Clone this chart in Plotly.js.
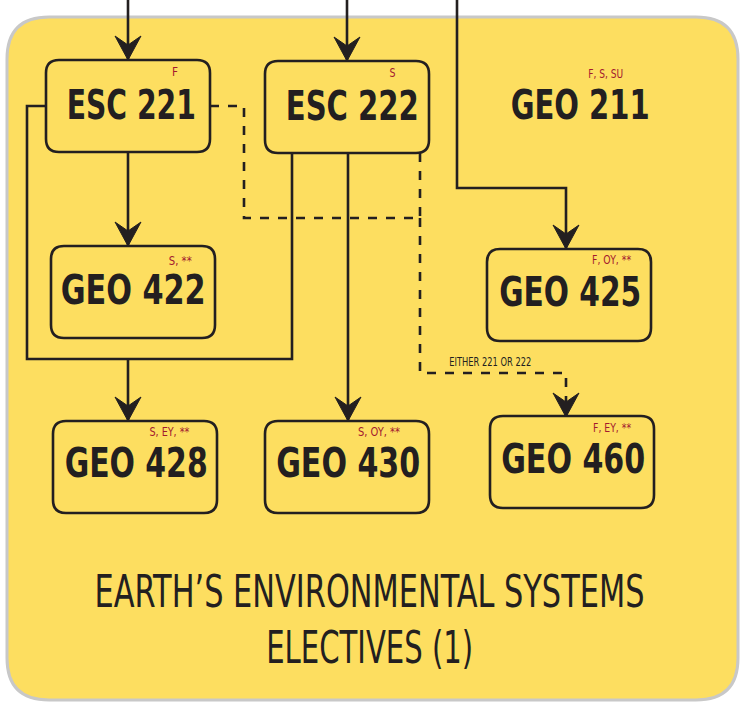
<!DOCTYPE html>
<html>
<head>
<meta charset="utf-8">
<script src="https://cdn.plot.ly/plotly-3.0.1.min.js"></script>
<style>html,body{margin:0;padding:0;background:#fff;}#chart{width:740px;height:702px;}</style>
</head>
<body>
<div id="chart"></div>
<script>
// ---- data ----
const courses = ['ESC 221', 'ESC 222', 'GEO 211', 'GEO 422', 'GEO 425', 'GEO 428', 'GEO 430', 'GEO 460'];
const terms = ['F', 'S', 'F, S, SU', 'S, **', 'F, OY, **', 'S, EY, **', 'S, OY, **', 'F, EY, **'];
const boxed = [true, true, false, true, true, true, true, true];
const noteText = 'EITHER 221 OR 222';
const titleLines = ['EARTH\u2019S ENVIRONMENTAL SYSTEMS', 'ELECTIVES (1)'];

// ---- layout (pixel space of the figure) ----
const nodeX = [128, 347, 580, 133, 569, 135, 347, 572];
const nodeY = [106, 107, 105, 292, 295, 467, 467, 462];
const labelX = [131, 352, 580, 133, 570, 136, 348, 573];
const labelY = [105, 106, 105, 290, 292, 463, 463, 459];
const labelW = [129, 133, 139, 145, 142, 143, 144, 144];
const termX = [175, 392, 606, 180, 612, 169, 379, 612];
const termY = [72, 73, 74, 261, 260, 432, 432, 428];
const termW = [6, 6, 35, 23, 39, 40, 42, 38];
const nodeW = 164, nodeH = 92;
const titleY = [591, 647];
const titleW = [550, 207];
const titleStretch = 1.16;

const solidPaths = [
  {pts: [[128, 0], [128, 60]], arrow: true},
  {pts: [[347, 0], [347, 61]], arrow: true},
  {pts: [[457, 0], [457, 188], [566, 188], [566, 249]], arrow: true},
  {pts: [[128, 152], [128, 246]], arrow: true},
  {pts: [[46, 106], [27, 106], [27, 359], [292, 359], [292, 153]], arrow: false},
  {pts: [[128, 359], [128, 421]], arrow: true},
  {pts: [[348, 153], [348, 421]], arrow: true}
];
const dashedPaths = [
  {pts: [[210, 106], [244, 106], [244, 218], [420, 218], [420, 153]], arrow: false},
  {pts: [[420, 218], [420, 373], [566, 373], [566, 417]], arrow: true}
];

const ink = '#231f20';
const red = '#a3182f';
const yellow = '#fdde60';
const condensed = 'DejaVu Sans Condensed, Liberation Sans Narrow, sans-serif';

function rr(x0, y0, x1, y1, r) {
  return `M${x0 + r},${y0} L${x1 - r},${y0} Q${x1},${y0} ${x1},${y0 + r} L${x1},${y1 - r} Q${x1},${y1} ${x1 - r},${y1} L${x0 + r},${y1} Q${x0},${y1} ${x0},${y1 - r} L${x0},${y0 + r} Q${x0},${y0} ${x0 + r},${y0} Z`;
}
function poly(pts) {
  return pts.map((p, i) => (i ? 'L' : 'M') + p[0] + ',' + p[1]).join(' ');
}
function arrowHead(x, y) {
  return `M${x},${y} L${x - 13},${y - 24} L${x},${y - 15} L${x + 13},${y - 24} Z`;
}

const shapes = [];
const annotations = [];
const squeeze = []; // target text widths, one per annotation
const stretch = []; // vertical stretch per annotation

shapes.push({type: 'path', xref: 'x', yref: 'y', path: rr(7, 17, 738, 700, 42),
  fillcolor: yellow, line: {color: '#c8c8c8', width: 3}, layer: 'below'});

function addPaths(list, dash) {
  list.forEach(p => {
    shapes.push({type: 'path', xref: 'x', yref: 'y', path: poly(p.pts),
      line: {color: ink, width: 2.6, dash: dash}, fillcolor: 'rgba(0,0,0,0)'});
    if (p.arrow) {
      const e = p.pts[p.pts.length - 1];
      shapes.push({type: 'path', xref: 'x', yref: 'y', path: arrowHead(e[0], e[1]),
        fillcolor: ink, line: {color: ink, width: 1}});
    }
  });
}
addPaths(solidPaths, 'solid');
addPaths(dashedPaths, 'dash');

courses.forEach((c, i) => {
  if (boxed[i]) {
    shapes.push({type: 'path', xref: 'x', yref: 'y',
      path: rr(nodeX[i] - nodeW / 2, nodeY[i] - nodeH / 2, nodeX[i] + nodeW / 2, nodeY[i] + nodeH / 2, 13),
      fillcolor: yellow, line: {color: ink, width: 2.6}});
  }
  annotations.push({x: labelX[i], y: labelY[i], xref: 'x', yref: 'y', text: '<b>' + c + '</b>',
    showarrow: false, xanchor: 'center', yanchor: 'middle', borderpad: 0,
    font: {family: condensed, size: 40, color: ink}});
  squeeze.push(labelW[i]); stretch.push(1);
  annotations.push({x: termX[i], y: termY[i], xref: 'x', yref: 'y', text: terms[i],
    showarrow: false, xanchor: 'center', yanchor: 'middle', borderpad: 0,
    font: {family: condensed, size: 12, color: red}});
  squeeze.push(termW[i]); stretch.push(1);
});

annotations.push({x: 490, y: 362, xref: 'x', yref: 'y', text: noteText, showarrow: false,
  xanchor: 'center', yanchor: 'middle', borderpad: 0, font: {family: condensed, size: 12, color: ink}});
squeeze.push(82); stretch.push(1);

titleLines.forEach((line, k) => {
  annotations.push({x: 369, y: titleY[k], xref: 'x', yref: 'y', text: line, showarrow: false,
    xanchor: 'center', yanchor: 'middle', borderpad: 0, font: {family: condensed, size: 39, color: ink}});
  squeeze.push(titleW[k]); stretch.push(titleStretch);
});

const layout = {
  width: 740, height: 702,
  margin: {l: 0, r: 0, t: 0, b: 0},
  paper_bgcolor: '#ffffff', plot_bgcolor: 'rgba(0,0,0,0)',
  xaxis: {range: [0, 740], visible: false, fixedrange: true},
  yaxis: {range: [702, 0], visible: false, fixedrange: true},
  showlegend: false,
  shapes: shapes,
  annotations: annotations
};

Plotly.newPlot('chart', [{x: [], y: [], type: 'scatter', mode: 'markers', hoverinfo: 'skip'}], layout,
  {staticPlot: true, displayModeBar: false}).then(gd => {
  // condense the glyphs horizontally to mimic the narrow typeface of the original
  gd.querySelectorAll('g.annotation').forEach(g => {
    const idx = +g.getAttribute('data-index');
    const target = squeeze[idx];
    const t = g.querySelector('text.annotation-text');
    if (!t || target == null) return;
    t.setAttribute('textLength', target);
    t.setAttribute('lengthAdjust', 'spacingAndGlyphs');
    const bb = t.getBBox();
    const bg = g.querySelector('rect.bg');
    if (bg) {
      bg.setAttribute('x', bb.x);
      bg.setAttribute('width', bb.width);
    }
    const s = stretch[idx];
    if (s && s !== 1) {
      const cy = bb.y + bb.height / 2;
      t.setAttribute('transform', `translate(0,${cy}) scale(1,${s}) translate(0,${-cy})`);
    }
  });
});
</script>
</body>
</html>
